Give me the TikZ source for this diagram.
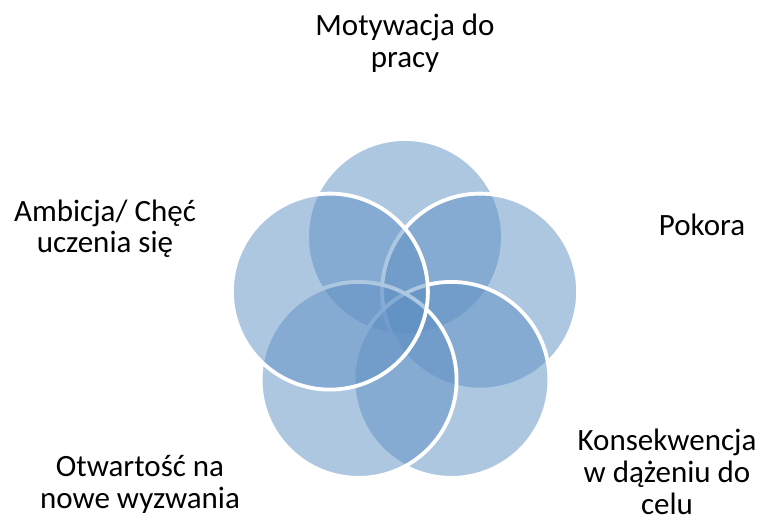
\documentclass[tikz,border=0pt]{standalone}
\usepackage{fontspec}
\setmainfont{Carlito}
\definecolor{vennblue}{RGB}{95,145,197}
\begin{document}
\begin{tikzpicture}[x=1pt,y=-1pt,
  venn/.style={fill=vennblue,fill opacity=0.5,draw=white,draw opacity=1,line width=3.8pt},
  lbl/.style={font=\fontsize{31}{32}\selectfont,align=center,inner sep=0pt,anchor=base,text=black}]
\useasboundingbox[fill=white] (0,0) rectangle (765,521);
\coordinate (c1) at (405,237);
\coordinate (c2) at (480.1,291.6);
\coordinate (c3) at (451.4,379.9);
\coordinate (c4) at (358.6,379.9);
\coordinate (c5) at (329.9,291.6);
\foreach \c in {c1,c2,c3,c4,c5}
  \path[venn] (\c) circle[radius=98pt];
\node[lbl] (t1) at (405,68) {Motywacja do\\pracy};
\node[lbl] (t2) at (702,236) {Pokora};
\node[lbl] (t3) at (667,514) {Konsekwencja\\w dążeniu do\\celu};
\node[lbl] (t4) at (140,508) {Otwartość na\\nowe wyzwania};
\node[lbl] (t5) at (105,253) {Ambicja/ Chęć\\uczenia się};
\end{tikzpicture}
\end{document}
